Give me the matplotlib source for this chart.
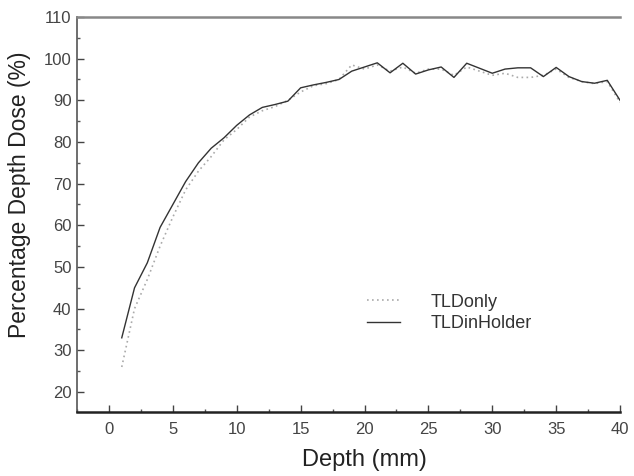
import matplotlib
matplotlib.use("Agg")
import matplotlib.pyplot as plt
from matplotlib.ticker import MultipleLocator

plt.rcParams['font.family'] = ['Liberation Sans', 'DejaVu Sans']

depth = list(range(1, 41))
tld_only = [26, 40, 47, 55, 62, 68.5, 73, 76.5, 80.5, 83,
            86, 87.5, 88.5, 90, 92, 93.5, 94, 95, 98.5, 97.5,
            98.5, 97, 98, 96.5, 97.5, 97.5, 96, 98, 97, 96,
            96.5, 95.5, 95.5, 96, 97.5, 95.5, 94.5, 94, 94.5, 89.5]
tld_in_holder = [33, 45, 51, 59.5, 65, 70.5, 75, 78.5, 81, 84,
                 86.5, 88.3, 89, 89.8, 93, 93.7, 94.3, 95, 97, 98,
                 99, 96.6, 98.9, 96.3, 97.3, 98, 95.5, 98.9, 97.7, 96.5,
                 97.5, 97.8, 97.8, 95.7, 97.9, 95.7, 94.5, 94.1, 94.8, 90]
series_labels = ["TLDonly", "TLDinHolder"]

fig = plt.figure(figsize=(6.34, 4.76), dpi=100)
ax = fig.add_axes([0.1215, 0.1345, 0.8565, 0.8298])

ax.plot(depth, tld_only, linestyle=(0, (1, 2)), color='#aaaaaa', linewidth=1.2,
        label=series_labels[0])
ax.plot(depth, tld_in_holder, linestyle='-', color='#333333', linewidth=1.0,
        label=series_labels[1])

ax.set_xlim(-2.5, 40)
ax.set_ylim(15.2, 110)
ax.xaxis.set_major_locator(MultipleLocator(5))
ax.xaxis.set_minor_locator(MultipleLocator(2.5))
ax.yaxis.set_major_locator(MultipleLocator(10))
ax.yaxis.set_minor_locator(MultipleLocator(5))

ax.tick_params(which='major', direction='in', length=5, width=1, color='#444444',
               labelsize=12, labelcolor='#444444')
ax.tick_params(which='minor', direction='in', length=2.5, width=1, color='#555555')
ax.tick_params(axis='x', pad=7)
ax.tick_params(axis='y', pad=4)

ax.spines['right'].set_visible(False)
ax.spines['top'].set_color('#888888')
ax.spines['top'].set_linewidth(1.8)
ax.spines['left'].set_color('#555555')
ax.spines['left'].set_linewidth(1.2)
ax.spines['bottom'].set_color('#222222')
ax.spines['bottom'].set_linewidth(1.8)

ax.set_xlabel('Depth (mm)', fontsize=17, color='#222222')
ax.xaxis.set_label_coords(0.5286, -0.094)
ax.set_ylabel('Percentage Depth Dose (%)', fontsize=16.5, color='#222222')
ax.yaxis.set_label_coords(-0.085, 0.549)

leg = ax.legend(loc='center left', bbox_to_anchor=(0.534, 0.2506), frameon=False,
                fontsize=13, handlelength=1.8, handletextpad=1.75, labelspacing=0.25,
                borderpad=0, borderaxespad=0, labelcolor='#333333')

fig.savefig('out.png', dpi=100)
